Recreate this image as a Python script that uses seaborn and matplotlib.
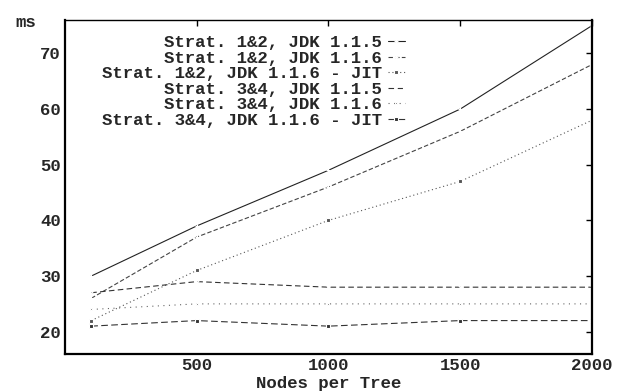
import numpy as np
import pandas as pd
import seaborn as sns
from matplotlib import pyplot as plt

nodes = [100, 500, 1000, 1500, 2000]
labels = ['Strat. 1&2, JDK 1.1.5', 'Strat. 1&2, JDK 1.1.6', 'Strat. 1&2, JDK 1.1.6 - JIT',
          'Strat. 3&4, JDK 1.1.5', 'Strat. 3&4, JDK 1.1.6', 'Strat. 3&4, JDK 1.1.6 - JIT']
s12_115 = [30, 39, 49, 60, 75]
s12_116 = [26, 37, 46, 56, 68]
s12_jit = [22, 31, 40, 47, 58]
s34_115 = [27, 29, 28, 28, 28]
s34_116 = [24, 25, 25, 25, 25]
s34_jit = [21, 22, 21, 22, 22]
series = [s12_115, s12_116, s12_jit, s34_115, s34_116, s34_jit]

styles = [
    dict(color='#222222', linestyle='-', marker='+', lw=0.8),
    dict(color='#444444', linestyle=(0, (4, 2)), marker='+', lw=0.8),
    dict(color='#555555', linestyle=(0, (1, 2.5)), marker='s', lw=0.8),
    dict(color='#333333', linestyle=(0, (5, 3)), marker='x', lw=0.8),
    dict(color='#666666', linestyle=(0, (1, 4)), marker='.', lw=0.8),
    dict(color='#333333', linestyle=(0, (6, 3)), marker='s', lw=0.8),
]

sns.set_style('white')
plt.rcParams['font.family'] = ['Liberation Mono', 'DejaVu Sans']
plt.rcParams['font.weight'] = 'bold'

fig = plt.figure(figsize=(6.18, 3.92), dpi=100)
ax = fig.add_axes([0.105, 0.097, 0.853, 0.852])

for lab, vals, st in zip(labels, series, styles):
    df = pd.DataFrame({'nodes': nodes, 'ms': vals})
    sns.lineplot(data=df, x='nodes', y='ms', ax=ax, label=lab,
                 color=st['color'], linestyle=st['linestyle'], linewidth=st['lw'],
                 marker=st['marker'], markersize=3, markeredgewidth=0.8)

ax.set_xlim(0, 2000)
ax.set_ylim(16, 76)
ax.set_xticks([500, 1000, 1500, 2000])
ax.set_yticks([20, 30, 40, 50, 60, 70])
ax.tick_params(direction='in', length=4, width=1, top=True, right=True,
               labelsize=12.5, pad=3, color='black')
for lbl in ax.get_xticklabels() + ax.get_yticklabels():
    lbl.set_fontweight('bold')
for side in ['left', 'bottom', 'right']:
    ax.spines[side].set_linewidth(1.6)
ax.spines['top'].set_linewidth(1.0)
for sp in ax.spines.values():
    sp.set_color('black')

ax.set_xlabel('Nodes per Tree', fontsize=12.5, fontweight='bold', labelpad=2)
ax.set_ylabel('')
fig.text(0.042, 0.942, 'ms', fontsize=12.5, fontweight='bold', ha='center', va='center')

leg = ax.legend(loc='upper right', bbox_to_anchor=(0.645, 0.955), markerfirst=False,
                frameon=False, fontsize=12.5, labelspacing=0.02, handlelength=1.0,
                handletextpad=0.3, borderpad=0, borderaxespad=0)
for t in leg.get_texts():
    t.set_fontweight('bold')

fig.savefig('out.png', dpi=100)
